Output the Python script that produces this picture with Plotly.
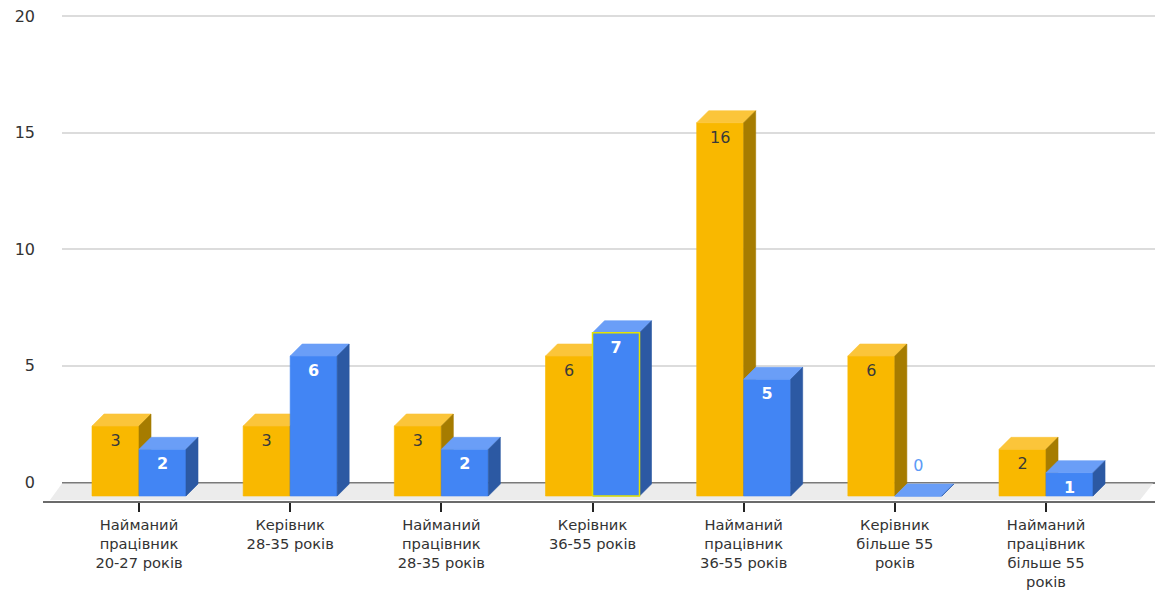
import plotly.graph_objects as go

# ---- data -------------------------------------------------------------
categories = [
    "Найманий<br>працівник<br>20-27 років",
    "Керівник<br>28-35 років",
    "Найманий<br>працівник<br>28-35 років",
    "Керівник<br>36-55 років",
    "Найманий<br>працівник<br>36-55 років",
    "Керівник<br>більше 55<br>років",
    "Найманий<br>працівник<br>більше 55<br>років",
]
series_a = [3, 3, 3, 6, 16, 6, 2]
series_b = [2, 6, 2, 7, 5, 0, 1]
y_ticks = [0, 5, 10, 15, 20]

# ---- geometry of the pseudo-3D layout (pixels) -------------------------
W, H = 1157, 591
M_L, M_R, M_T, M_B = 43, 2, 10, 90
plot_w = W - M_L - M_R
plot_h = H - M_T - M_B

CAT_PX = 151.17        # distance between category centres
FIRST_CAT_PX = 96      # first category centre from the plot's left edge
VAL_PX = 23.33         # pixels per value unit
BASE_PX = 5            # columns' front baseline above the axis line
DEPTH_PX = 12          # column depth (x and y)
BACK_DX_PX = 19        # back wall shift to the right
BACK_DY_PX = 13.5      # back wall shift upwards
BAR_PX = 47            # column width

x_range = [-FIRST_CAT_PX / CAT_PX, (plot_w - FIRST_CAT_PX) / CAT_PX]
y_lo = -BASE_PX / VAL_PX
y_range = [y_lo, y_lo + (plot_h - BACK_DY_PX) / VAL_PX]

dx = DEPTH_PX / CAT_PX
dy = DEPTH_PX / VAL_PX
bw = BAR_PX / CAT_PX


def px_x(p):
    """plot-relative pixel -> front x value"""
    return (p - FIRST_CAT_PX) / CAT_PX


FONT = "DejaVu Sans"
TXT = "#333333"
LABEL_SIZE = 14.7

styles = {
    "a": dict(front="#F9B800", top="#FBC53A", side="#A67C00",
              label="#3a3a3a", bold=False),
    "b": dict(front="#4285F4", top="#6A9EF7", side="#2C59A3",
              label="#ffffff", bold=True),
}
ZERO_LABEL = "#5C9AF6"
HIGHLIGHT_B = 3  # outlined column of the second series

FRONT = dict(xaxis="x2", yaxis="y2")   # columns, floor, category axis
fig = go.Figure()

# back wall subplot (carries the value grid and its labels)
fig.add_trace(go.Scatter(x=[], y=[], hoverinfo="skip", showlegend=False))

# floor of the 3D plot area
fl_bottom = y_lo + 1 / VAL_PX
fl_top = (BACK_DY_PX - 1) / VAL_PX
fig.add_trace(go.Scatter(
    x=[px_x(7), px_x(1097), px_x(1110), px_x(19), px_x(7)],
    y=[fl_bottom, fl_bottom, fl_top, fl_top, fl_bottom],
    mode="lines", fill="toself", fillcolor="#ECECEC",
    line=dict(width=0), hoverinfo="skip", showlegend=False, **FRONT,
))


def faces(values, offset):
    fx, fy, tx, ty, sx, sy = [], [], [], [], [], []
    for i, v in enumerate(values):
        x0 = i + offset
        x1 = x0 + bw
        fx += [x0, x1, x1, x0, x0, None]
        fy += [0, 0, v, v, 0, None]
        tx += [x0, x1, x1 + dx, x0 + dx, x0, None]
        ty += [v, v, v + dy, v + dy, v, None]
        sx += [x1, x1 + dx, x1 + dx, x1, x1, None]
        sy += [0, dy, v + dy, v, 0, None]
    return (fx, fy), (tx, ty), (sx, sy)


for key, values, offset in (("a", series_a, -bw), ("b", series_b, 0.0)):
    st = styles[key]
    front, top, side = faces(values, offset)
    for (xs, ys), col in ((front, st["front"]), (top, st["top"]), (side, st["side"])):
        fig.add_trace(go.Scatter(
            x=xs, y=ys, mode="lines", fill="toself", fillcolor=col,
            line=dict(width=0.6, color=col), hoverinfo="skip",
            showlegend=False, **FRONT,
        ))

# outline of the highlighted column
hx0 = HIGHLIGHT_B
hv = series_b[HIGHLIGHT_B]
fig.add_trace(go.Scatter(
    x=[hx0, hx0 + bw, hx0 + bw, hx0, hx0],
    y=[0, 0, hv, hv, 0],
    mode="lines", line=dict(width=1.5, color="#E4E400"),
    hoverinfo="skip", showlegend=False, **FRONT,
))

# value labels: inside the column top, or above an empty column
for key, values, offset in (("a", series_a, -bw), ("b", series_b, 0.0)):
    st = styles[key]
    pos = [(i, v) for i, v in enumerate(values) if v > 0]
    zero = [(i, v) for i, v in enumerate(values) if v == 0]
    if pos:
        fig.add_trace(go.Scatter(
            x=[i + offset + bw / 2 for i, _ in pos],
            y=[v - 16 / VAL_PX for _, v in pos],
            mode="text", text=[str(v) for _, v in pos],
            textposition="middle center",
            textfont=dict(family=FONT, size=16, color=st["label"],
                          weight="bold" if st["bold"] else "normal"),
            hoverinfo="skip", showlegend=False, cliponaxis=False, **FRONT,
        ))
    if zero:
        fig.add_trace(go.Scatter(
            x=[i + offset + bw / 2 for i, _ in zero],
            y=[v + 29 / VAL_PX for _, v in zero],
            mode="text", text=[str(v) for _, v in zero],
            textposition="middle center",
            textfont=dict(family=FONT, size=16, color=ZERO_LABEL),
            hoverinfo="skip", showlegend=False, cliponaxis=False, **FRONT,
        ))

fig.update_layout(
    width=W, height=H,
    margin=dict(l=M_L, r=M_R, t=M_T, b=M_B, autoexpand=False),
    paper_bgcolor="white", plot_bgcolor="rgba(0,0,0,0)",
    showlegend=False,
    font=dict(family=FONT, size=16, color=TXT),
    # back wall
    xaxis=dict(
        domain=[BACK_DX_PX / plot_w, 1], range=x_range, anchor="y",
        automargin=False, visible=False, showgrid=False, zeroline=False,
    ),
    yaxis=dict(
        domain=[BACK_DY_PX / plot_h, 1], range=y_range, anchor="x",
        automargin=False,
        tickmode="array", tickvals=y_ticks,
        showgrid=True, gridcolor="#DCDCDC", gridwidth=1.5,
        zeroline=True, zerolinecolor="#7A7A7A", zerolinewidth=2,
        showline=False, ticks="", ticklabelstandoff=26,
        tickfont=dict(family=FONT, size=16, color=TXT),
    ),
    # front plane
    xaxis2=dict(
        domain=[0, 1], range=x_range, anchor="y2", automargin=False,
        tickmode="array", tickvals=list(range(len(categories))), ticktext=categories,
        showline=True, linecolor="#6B6B6B", linewidth=2,
        ticks="outside", ticklen=9, tickwidth=1.5, tickcolor="#222222",
        showgrid=False, zeroline=False,
        tickfont=dict(family=FONT, size=LABEL_SIZE, color=TXT),
    ),
    yaxis2=dict(
        domain=[0, 1 - BACK_DY_PX / plot_h], range=y_range, anchor="x2",
        automargin=False, visible=False, showgrid=False, zeroline=False,
    ),
)

fig.write_html("out.html")
